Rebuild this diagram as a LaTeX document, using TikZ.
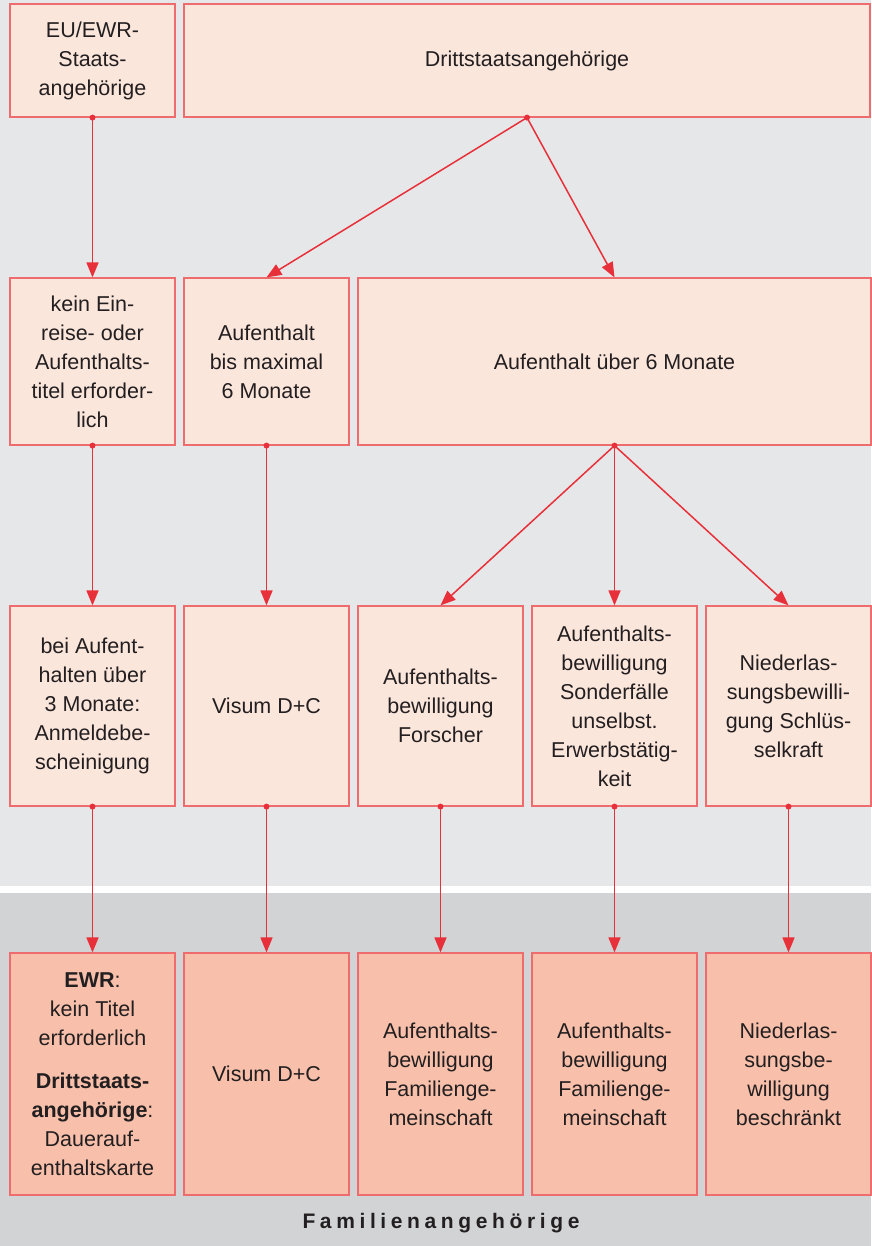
\documentclass[tikz,border=0pt]{standalone}
\usepackage{fontspec}
\setmainfont{Liberation Sans}
\newfontfamily\sperrfont[LetterSpace=22]{Liberation Sans}
\usetikzlibrary{arrows.meta}
\definecolor{rahmenrot}{HTML}{EE6B6E}
\definecolor{pfeilrot}{HTML}{E8303A}
\definecolor{hellrosa}{HTML}{FBE6DC}
\definecolor{lachs}{HTML}{F8C0AB}
\definecolor{grauhell}{HTML}{E6E7E8}
\definecolor{graudunkel}{HTML}{D1D3D4}
\definecolor{schrift}{HTML}{231F20}
\begin{document}
\begin{tikzpicture}[x=1pt,y=-1pt,
			kasten/.style={
				rectangle,
				draw=rahmenrot,
				line width=1.2pt,
				fill=hellrosa,
				align=center,
				text=schrift,
				inner sep=0pt,
				font=\fontsize{21.5}{29}\selectfont
			},
			famkasten/.style={
				kasten,
				fill=lachs,
				minimum width=165pt,
				minimum height=242pt
			},
			pfeil/.style={
				draw=pfeilrot,
				line width=1.5pt,
				-{Triangle[length=15pt,width=12pt]}
			},
			punkt/.style={
				fill=pfeilrot
			}
			]
			\useasboundingbox (0,0) rectangle (871,1246);
			%---------------- HINTERGRUND ----------------
			\fill[grauhell] (0,0) rectangle (871,886);
			\fill[graudunkel] (0,893) rectangle (871,1246);
			%---------------- ZEILE 1 ----------------
			\node[kasten, minimum width=165pt, minimum height=113pt] (eu) at (92.5,60.5) {EU/EWR-\\Staats-\\angehörige};
			\node[kasten, minimum width=686pt, minimum height=113pt] (dritt) at (527,60.5) {Drittstaatsangehörige};
			%---------------- ZEILE 2 ----------------
			\node[kasten, minimum width=165pt, minimum height=167pt] (kein) at (92.5,361.5) {kein Ein-\\reise- oder\\Aufenthalts-\\titel erforder-\\lich};
			\node[kasten, minimum width=165pt, minimum height=167pt] (kurz) at (266.5,361.5) {Aufenthalt\\bis maximal\\6 Monate};
			\node[kasten, minimum width=513pt, minimum height=167pt] (lang) at (614.5,361.5) {Aufenthalt über 6 Monate};
			%---------------- ZEILE 3 ----------------
			\node[kasten, minimum width=165pt, minimum height=200pt] (anmelde) at (92.5,706) {bei Aufent-\\halten über\\3 Monate:\\Anmeldebe-\\scheinigung};
			\node[kasten, minimum width=165pt, minimum height=200pt] (visum) at (266.5,706) {Visum D+C};
			\node[kasten, minimum width=165pt, minimum height=200pt] (forscher) at (440.5,706) {Aufenthalts-\\bewilligung\\Forscher};
			\node[kasten, minimum width=165pt, minimum height=200pt] (sonder) at (614.5,706) {Aufenthalts-\\bewilligung\\Sonderfälle\\unselbst.\\Erwerbstätig-\\keit};
			\node[kasten, minimum width=165pt, minimum height=200pt] (schluessel) at (788.5,706) {Niederlas-\\sungsbewilli-\\gung Schlüs-\\selkraft};
			%---------------- ZEILE 4 (FAMILIE) ----------------
			\node[famkasten] (famewr) at (92.5,1074) {\textbf{EWR}:\\kein Titel\\erforderlich\\[14pt]\textbf{Drittstaats-}\\\textbf{angehörige}:\\Dauerauf-\\enthaltskarte};
			\node[famkasten] (famvisum) at (266.5,1074) {Visum D+C};
			\node[famkasten] (famforscher) at (440.5,1074) {Aufenthalts-\\bewilligung\\Familienge-\\meinschaft};
			\node[famkasten] (famsonder) at (614.5,1074) {Aufenthalts-\\bewilligung\\Familienge-\\meinschaft};
			\node[famkasten] (famschluessel) at (788.5,1074) {Niederlas-\\sungsbe-\\willigung\\beschränkt};
			\node[text=schrift, font=\sperrfont\bfseries\fontsize{21}{24}\selectfont] (familie) at (441,1223) {Familienangehörige};
			%---------------- PFEILE ----------------
			\draw[pfeil] (eu.south) -- (kein.north);
			\draw[pfeil] (dritt.south) -- (kurz.north);
			\draw[pfeil] (dritt.south) -- (lang.north);
			\draw[pfeil] (kein.south) -- (anmelde.north);
			\draw[pfeil] (kurz.south) -- (visum.north);
			\draw[pfeil] (lang.south) -- (forscher.north);
			\draw[pfeil] (lang.south) -- (sonder.north);
			\draw[pfeil] (lang.south) -- (schluessel.north);
			\draw[pfeil] (anmelde.south) -- (famewr.north);
			\draw[pfeil] (visum.south) -- (famvisum.north);
			\draw[pfeil] (forscher.south) -- (famforscher.north);
			\draw[pfeil] (sonder.south) -- (famsonder.north);
			\draw[pfeil] (schluessel.south) -- (famschluessel.north);
			% Punkte am Anfang
			\fill[punkt] (eu.south) circle (3);
			\fill[punkt] (dritt.south) circle (3);
			\fill[punkt] (kein.south) circle (3);
			\fill[punkt] (kurz.south) circle (3);
			\fill[punkt] (lang.south) circle (3);
			\fill[punkt] (anmelde.south) circle (3);
			\fill[punkt] (visum.south) circle (3);
			\fill[punkt] (forscher.south) circle (3);
			\fill[punkt] (sonder.south) circle (3);
			\fill[punkt] (schluessel.south) circle (3);
		\end{tikzpicture}
\end{document}
